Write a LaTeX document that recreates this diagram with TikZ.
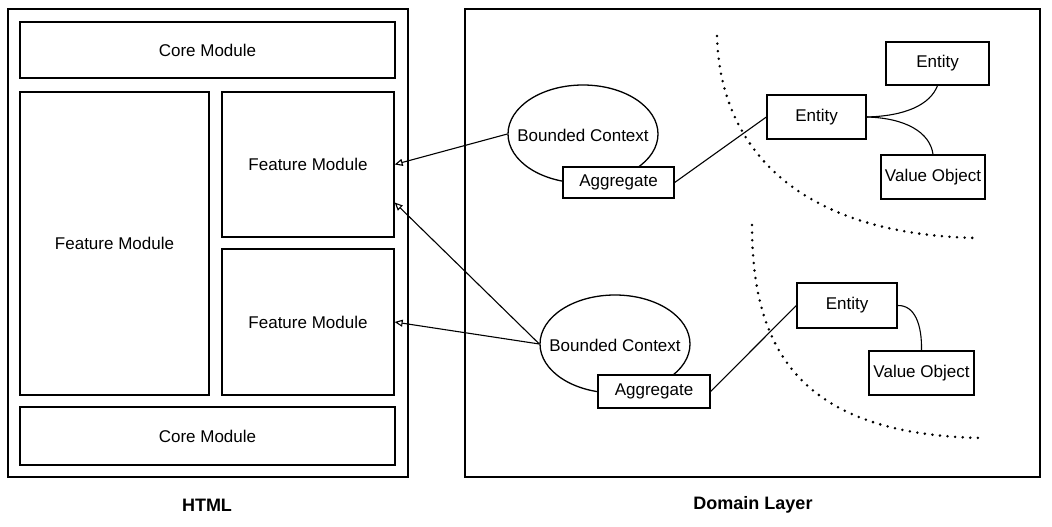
\documentclass[tikz,border=0pt]{standalone}
\usepackage{fontspec}
\setmainfont{Liberation Sans}
\usetikzlibrary{shapes.geometric,arrows.meta,calc}
\begin{document}
\begin{tikzpicture}[x=1pt,y=-1pt,
  every node/.style={font=\fontsize{17}{20}\selectfont, inner sep=0pt},
  frame/.style={draw, line width=1.4pt, fill=white},
  box/.style={draw, line width=1.3pt, fill=white, rectangle},
  ctx/.style={draw, line width=1.3pt, ellipse, fill=white},
  link/.style={draw, line width=1.1pt},
  dep/.style={draw, line width=1.1pt, -{Triangle[open, length=8pt, width=7pt]}},
  bound/.style={draw, line width=2.8pt, line cap=round, dash pattern=on 0pt off 7.6pt},
  caption/.style={font=\fontsize{18}{21}\selectfont\bfseries}]
\useasboundingbox[fill=white] (0,0) rectangle (1052,527);
% HTML side
\node[frame, minimum width=400pt, minimum height=468pt] (html) at (208,243) {};
\node[box, minimum width=375pt, minimum height=56pt] (coreTop) at (207.5,50) {Core Module};
\node[box, minimum width=189pt, minimum height=303pt] (fmLeft) at (114.5,243.5) {Feature Module};
\node[box, minimum width=172pt, minimum height=145pt] (fmA) at (308,164.5) {Feature Module};
\node[box, minimum width=172pt, minimum height=146pt] (fmB) at (308,322) {Feature Module};
\node[box, minimum width=375pt, minimum height=58pt] (coreBot) at (207.5,436) {Core Module};
\node[caption] (htmlLabel) at (207,505) {HTML};
% Domain side
\node[frame, minimum width=575pt, minimum height=468pt] (domain) at (752.5,243) {};
\node[caption] (domainLabel) at (753,505) {Domain Layer};
% dotted boundaries
\draw[bound] (717,36) .. controls (720,150) and (800,235) .. (978,238);
\draw[bound] (752,225) .. controls (752,350) and (800,435) .. (983,438);
% contexts
\node[ctx, minimum width=150pt, minimum height=98pt] (bc1) at (583,134) {};
\node (bc1text) at (583,135) {Bounded Context};
\node[box, minimum width=111pt, minimum height=31pt] (agg1) at (618.5,182.5) {Aggregate};
\node[ctx, minimum width=150pt, minimum height=98pt] (bc2) at (615,344) {};
\node (bc2text) at (615,345) {Bounded Context};
\node[box, minimum width=112pt, minimum height=33pt] (agg2) at (654,391.5) {Aggregate};
% entities
\node[box, minimum width=99pt, minimum height=44pt] (ent1) at (816.5,117) {Entity};
\node[box, minimum width=103pt, minimum height=43pt] (entTop) at (937.5,63.5) {Entity};
\node[box, minimum width=104pt, minimum height=44pt] (vo1) at (933,177) {Value Object};
\node[box, minimum width=100pt, minimum height=45pt] (ent2) at (847,305.5) {Entity};
\node[box, minimum width=105pt, minimum height=44pt] (vo2) at (921.5,373) {Value Object};
% connectors
\draw[dep] (bc1.west) -- (fmA.east);
\draw[dep] (bc2.west) -- ($(fmA.east)+(0,38)$);
\draw[dep] (bc2.west) -- (fmB.east);
\draw[link] (agg1.east) -- (ent1.west);
\draw[link] (agg2.east) -- (ent2.west);
\draw[link] (ent1.east) .. controls (905,116) and (930,105) .. (entTop.south);
\draw[link] (ent1.east) .. controls (905,118) and (930,132) .. (vo1.north);
\draw[link] (ent2.east) .. controls (915,305) and (922,325) .. (vo2.north);
\end{tikzpicture}
\end{document}
